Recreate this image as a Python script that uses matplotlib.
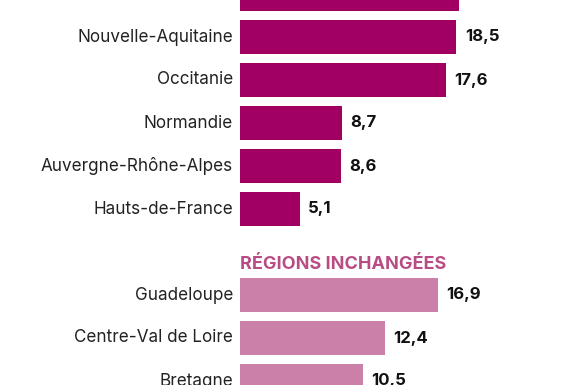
import matplotlib
matplotlib.use("Agg")
import matplotlib.pyplot as plt

plt.rcParams['font.family'] = ['Inter', 'DejaVu Sans']

# regions that changed
regions_a = ["Bourgogne-Franche-Comté", "Nouvelle-Aquitaine", "Occitanie",
             "Normandie", "Auvergne-Rhône-Alpes", "Hauts-de-France"]
values_a = [18.7, 18.5, 17.6, 8.7, 8.6, 5.1]

# unchanged regions
header_b = "RÉGIONS INCHANGÉES"
regions_b = ["Guadeloupe", "Centre-Val de Loire", "Bretagne"]
values_b = [16.9, 12.4, 10.5]

dark = "#A10062"
light = "#CB80AA"
head_col = "#B84C85"

fig = plt.figure(figsize=(5.8, 3.85), dpi=100)
# axes starts where the bars start (x=240px), covers full height
ax = fig.add_axes([240 / 580, 0, 340 / 580, 1])
ax.set_xlim(0, 340 / 11.7)
ax.set_ylim((385 + 6) / 43, 6 / 43)
ax.axis("off")

pos_a = list(range(len(regions_a)))
pos_b = [7 + i for i in range(len(regions_b))]

ax.barh(pos_a, values_a, height=0.81, color=dark)
ax.barh(pos_b, values_b, height=0.81, color=light)

for p, name, v in zip(pos_a + pos_b, regions_a + regions_b, values_a + values_b):
    ax.annotate(name, (0, p), xytext=(-5, 0), textcoords="offset points",
                ha="right", va="center", fontsize=12.3, color="#222222")
    ax.annotate(f"{v:.1f}".replace(".", ","), (v, p), xytext=(6, 0),
                textcoords="offset points", ha="left", va="center",
                fontsize=12, fontweight="bold", color="#111111")

ax.text(0, 6.3, header_b, ha="left", va="center", fontsize=13,
        fontweight="bold", color=head_col)

fig.savefig("out.png", dpi=100)
